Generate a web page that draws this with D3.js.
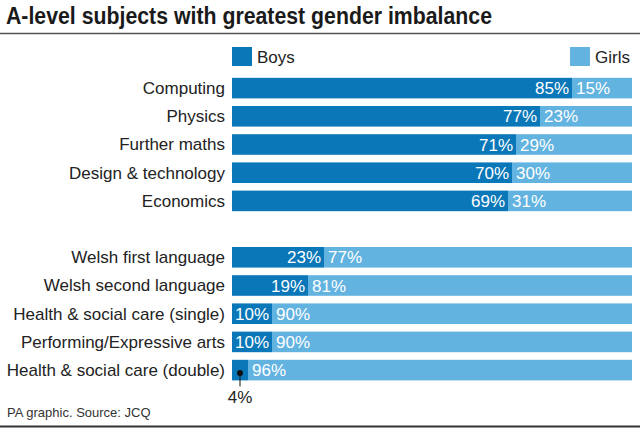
<!DOCTYPE html>
<html><head><meta charset="utf-8">
<script src="https://cdn.jsdelivr.net/npm/d3@7"></script>
<style>body{margin:0;background:#fff}svg{display:block}text{font-family:"Liberation Sans",Arial,sans-serif}</style>
</head><body><svg id="c" width="640" height="428"></svg>
<script>
const groupA = ["Computing","Physics","Further maths","Design & technology","Economics"];
const groupB = ["Welsh first language","Welsh second language","Health & social care (single)","Performing/Expressive arts","Health & social care (double)"];
const categories = groupA.concat(groupB);
const boys  = [85,77,71,70,69,23,19,10,10,4];
const girls = [15,23,29,30,31,77,81,90,90,96];
const seriesNames = ["Boys","Girls"];
const colors = ["#0a77b8","#62b3e0"];

const svg = d3.select("#c");
const W = 640;
svg.append("text").attr("x",6).attr("y",24).attr("font-size",23).attr("font-weight",700)
  .attr("fill","#1a1a1a").attr("textLength",486).attr("lengthAdjust","spacingAndGlyphs")
  .text("A-level subjects with greatest gender imbalance");
svg.append("line").attr("x1",0).attr("x2",W).attr("y1",33.5).attr("y2",33.5).attr("stroke","#555").attr("stroke-width",1.5);

const domain = groupA.concat(["__gap"], groupB);
const y = d3.scaleBand().domain(domain).range([74,74+28.2*11]).paddingInner(0.27).paddingOuter(0.135);
const x = d3.scaleLinear().domain([0,100]).range([232,632]);

// legend
const lg = [{n:seriesNames[0],x:232,tx:257},{n:seriesNames[1],x:570,tx:595}];
lg.forEach((d,i)=>{
  svg.append("rect").attr("x",d.x).attr("y",47).attr("width",20).attr("height",19).attr("fill",colors[i]);
  svg.append("text").attr("x",d.tx).attr("y",63).attr("font-size",17).attr("fill","#222").text(d.n);
});

const rows = categories.map((c,i)=>({c,b:boys[i],g:girls[i]}));
const g = svg.append("g");
rows.forEach(d=>{
  const y0 = y(d.c), h = y.bandwidth();
  g.append("rect").attr("x",x(0)).attr("y",y0).attr("width",x(d.b)-x(0)).attr("height",h).attr("fill",colors[0]);
  g.append("rect").attr("x",x(d.b)).attr("y",y0).attr("width",x(d.b+d.g)-x(d.b)).attr("height",h).attr("fill",colors[1]);
  g.append("text").attr("x",225).attr("y",y0+h/2).attr("dy","0.35em").attr("text-anchor","end")
    .attr("font-size",17).attr("fill","#222").text(d.c);
  if (d.b >= 10) {
    g.append("text").attr("x",x(d.b)-3).attr("y",y0+h/2).attr("dy","0.36em").attr("text-anchor","end")
      .attr("font-size",17).attr("fill","#fff").text(d.b+"%");
  } else {
    const cx = (x(0)+x(d.b))/2;
    g.append("circle").attr("cx",cx).attr("cy",y0+h/2+3).attr("r",3).attr("fill","#111");
    g.append("line").attr("x1",cx).attr("x2",cx).attr("y1",y0+h/2+3).attr("y2",y0+h+6).attr("stroke","#111").attr("stroke-width",1);
    g.append("text").attr("x",cx).attr("y",y0+h+23).attr("text-anchor","middle")
      .attr("font-size",17).attr("fill","#222").text(d.b+"%");
  }
  g.append("text").attr("x",x(d.b)+4).attr("y",y0+h/2).attr("dy","0.36em")
    .attr("font-size",17).attr("fill","#fff").text(d.g+"%");
});

svg.append("text").attr("x",7).attr("y",417).attr("font-size",13).attr("fill","#333").text("PA graphic. Source: JCQ");
svg.append("line").attr("x1",0).attr("x2",W).attr("y1",426.5).attr("y2",426.5).attr("stroke","#333").attr("stroke-width",2);
</script></body></html>
